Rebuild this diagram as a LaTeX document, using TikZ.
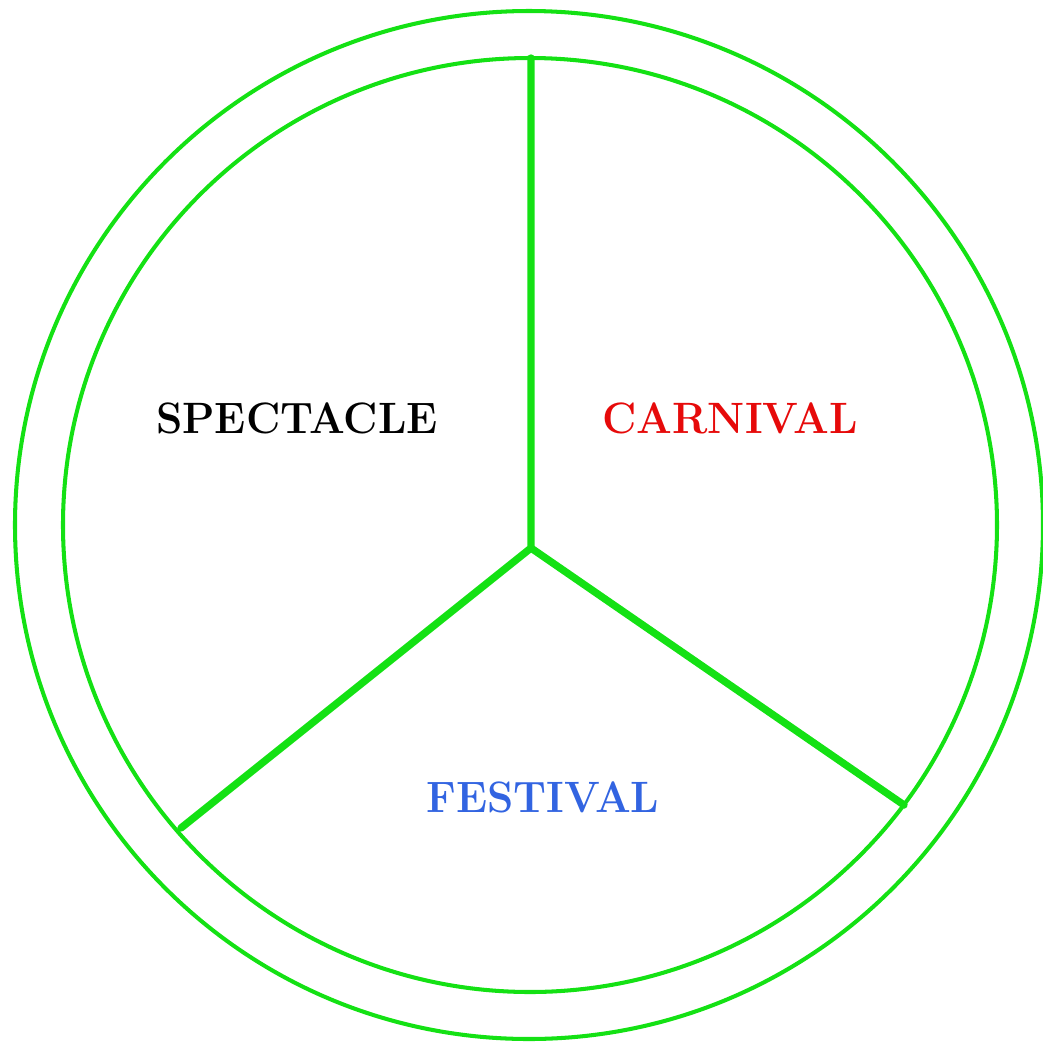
\documentclass[tikz,border=0pt]{standalone}
\usepackage{tikz}
\usetikzlibrary{calc}

\definecolor{ringgreen}{RGB}{20,225,20}
\definecolor{carnred}{RGB}{230,10,10}
\definecolor{festblue}{RGB}{50,100,225}

\begin{document}
\begin{tikzpicture}[x=1.0cm,y=1.0cm,
  ring/.style={draw=ringgreen,line width=1.15pt},
  spoke/.style={draw=ringgreen,line width=2.1pt},
  word/.style={font=\bfseries\fontsize{12.5}{14}\selectfont,xscale=0.96,inner sep=0pt}]
  \useasboundingbox (0,0) rectangle (10.43,-10.44);
  % two rings
  \draw[ring] (5.29,-5.25) circle (5.14);
  \draw[ring] (5.30,-5.25) circle (4.67);
  % three spokes from the hub
  \coordinate (hub) at (5.31,-5.48);
  \coordinate (top) at (5.31,-0.58);
  \coordinate (lft) at (1.81,-8.28);
  \coordinate (rgt) at (9.04,-8.05);
  \draw[spoke,line cap=round,line join=round] (top) -- (hub) -- (lft);
  \draw[spoke,line cap=round] (hub) -- (rgt);
  % labels
  \node[word,black]    (spec) at (2.97,-4.18) {SPECTACLE};
  \node[word,carnred]  (carn) at (7.30,-4.18) {CARNIVAL};
  \node[word,festblue] (fest) at (5.43,-7.97) {FESTIVAL};
\end{tikzpicture}
\end{document}
